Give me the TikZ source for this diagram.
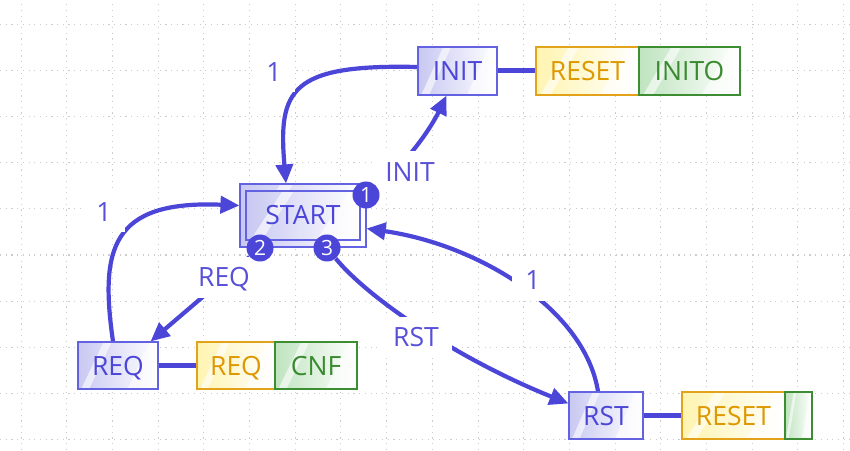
\documentclass[tikz,border=0pt]{standalone}
\usepackage{fontspec}
\setmainfont{Open Sans}
\usetikzlibrary{arrows.meta,calc}
\definecolor{eblue}{HTML}{4B45D8}
\definecolor{nblue}{HTML}{6262E2}
\definecolor{lav}{HTML}{C8C8F2}
\definecolor{ybord}{HTML}{E2A21A}
\definecolor{yfill}{HTML}{FFF4B0}
\definecolor{ytext}{HTML}{DE9800}
\definecolor{gbord}{HTML}{3D8D33}
\definecolor{gfill}{HTML}{BFE4BF}
\definecolor{gtext}{HTML}{3A8A30}
\definecolor{ltext}{HTML}{5850D8}
\definecolor{gridc}{HTML}{CCCCCC}
\pgfdeclarelayer{bg}
\pgfdeclarelayer{mid}
\pgfsetlayers{bg,mid,main}
\tikzset{
  gloss/.style={path picture={
    \path (path picture bounding box.south west) coordinate (bl)
          (path picture bounding box.south east) coordinate (br)
          (path picture bounding box.north west) coordinate (tl)
          (path picture bounding box.north east) coordinate (tr);
    \fill[white,opacity=.6] ($(bl)!.04!(br)$) -- ($(bl)!.14!(br)$) -- ($(tl)!.42!(tr)$) -- ($(tl)!.32!(tr)$) -- cycle;
    \fill[white,opacity=.6] ($(bl)!.62!(br)$) -- ($(bl)!1.3!(br)$) -- ($(tl)!1.6!(tr)$) -- ($(tl)!.90!(tr)$) -- cycle;
  }},
  bigtext/.style={font=\fontsize{26.5}{26.5}\selectfont, text height=19pt, text depth=0pt},
  state/.style={draw=nblue, line width=1.1pt, left color=lav, right color=white, gloss,
    text=eblue, bigtext, inner sep=0pt, minimum height=48pt},
  ybox/.style={draw=ybord, line width=1.1pt, left color=yfill, right color=white, gloss,
    text=ytext, bigtext, inner sep=0pt, minimum height=48pt},
  gbox/.style={draw=gbord, line width=1.1pt, left color=gfill, right color=white, gloss,
    text=gtext, bigtext, inner sep=0pt, minimum height=48pt},
  lbl/.style={fill=white, text=ltext, bigtext, inner xsep=13pt, inner ysep=11pt},
  edgeline/.style={draw=eblue, line width=4.2pt, -{Triangle[length=19pt,width=17pt]}},
  conn/.style={draw=eblue, line width=5pt},
  badge/.style={circle, fill=eblue, text=white, font=\fontsize{21}{21}\selectfont,
    inner sep=0pt, minimum size=27pt},
  gridline/.style={draw=gridc, line width=1pt, dash pattern=on 1.2pt off 4.5pt},
}
\begin{document}
\begin{tikzpicture}[x=1pt,y=1pt]
\useasboundingbox (0,0) rectangle (850,450);
% nodes
\node[state, minimum width=126pt, minimum height=63pt, text height=0pt] (start) at (303,234.5) {};
\node[state, minimum width=114pt, minimum height=49pt] (starti) at (303,234.5) {START};
\node[state, minimum width=79pt] (init) at (457.5,379) {INIT};
\node[ybox, minimum width=103pt] (reset1) at (587.5,379) {RESET};
\node[gbox, minimum width=101pt] (inito) at (689.5,379) {INITO};
\node[state, minimum width=80pt, minimum height=47pt] (req) at (118,84.5) {REQ};
\node[ybox, minimum width=78pt, minimum height=47pt] (req2) at (236,84.5) {REQ};
\node[gbox, minimum width=82pt, minimum height=47pt] (cnf) at (316,84.5) {CNF};
\node[state, minimum width=74pt, minimum height=47pt] (rst) at (606,34.5) {RST};
\node[ybox, minimum width=103pt, minimum height=47pt] (reset3) at (733.5,34.5) {RESET};
\node[gbox, minimum width=27pt, minimum height=47pt] (g3) at (798.5,34.5) {};
\node[badge] (b1) at (366,255) {1};
\node[badge] (b2) at (260,202) {2};
\node[badge] (b3) at (327,202) {3};
% grid and edges
\begin{pgfonlayer}{bg}
\fill[white] (0,0) rectangle (850,450);
\foreach \k in {0,...,18} \draw[gridline] (21+45.7*\k,0) -- (21+45.7*\k,450);
\foreach \k in {0,...,9} \draw[gridline] (0,425-46*\k) -- (850,425-46*\k);
\draw[edgeline] ([yshift=4pt]init.west) .. controls (290,386) and (278,360) .. ([xshift=-17pt]start.north);
\draw[edgeline] (b1) .. controls (405,285) and (430,320) .. ([xshift=-11pt]init.south);
\draw[edgeline] (b2) -- ([xshift=-8pt]req.north east);
\draw[edgeline] ([xshift=-5pt]req.north) .. controls (100,200) and (110,250) .. ([yshift=10pt]start.west);
\draw[edgeline] (b3) .. controls (370,150) and (460,90) .. ([yshift=12pt]rst.west);
\draw[edgeline] ([xshift=-8pt]rst.north) .. controls (585,140) and (480,205) .. ([yshift=-13pt]start.east);
\draw[conn] (init.east) -- (reset1.west);
\draw[conn] (req.east) -- (req2.west);
\draw[conn] (rst.east) -- (reset3.west);
\end{pgfonlayer}
\begin{pgfonlayer}{mid}
\node[lbl] (l1) at (274,378) {1};
\node[lbl] (linit) at (410,278) {INIT};
\node[lbl] (l2) at (104,238) {1};
\node[lbl] (lreq) at (224,173) {REQ};
\node[lbl] (lrst) at (416,113) {RST};
\node[lbl] (l3) at (533,170) {1};
\end{pgfonlayer}
\end{tikzpicture}
\end{document}
